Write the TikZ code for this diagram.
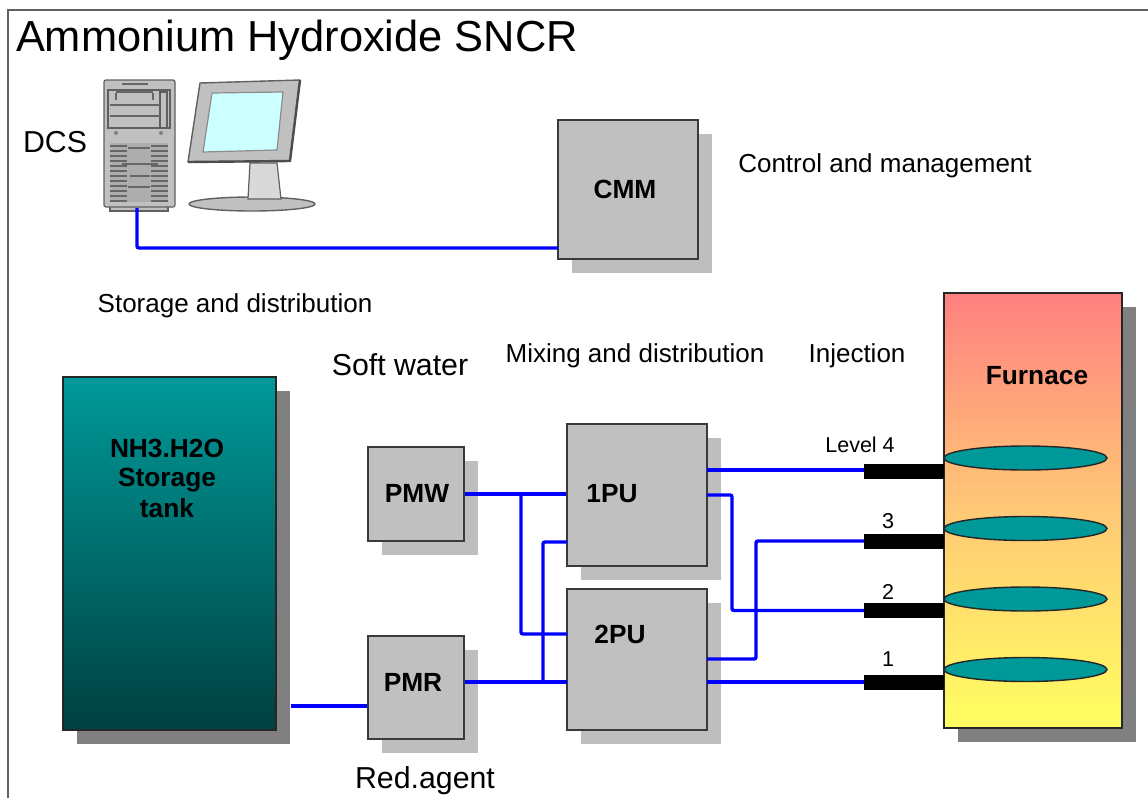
\documentclass[tikz,border=0pt]{standalone}
\usepackage{fontspec}
\setmainfont{Liberation Sans}
\usetikzlibrary{shapes.geometric,shadows,calc}
\definecolor{boxgray}{HTML}{C0C0C0}
\definecolor{shgray}{HTML}{BEBEBE}
\definecolor{darksh}{HTML}{808080}
\definecolor{edgec}{HTML}{3A3A3A}
\definecolor{pipec}{HTML}{0000FF}
\definecolor{tealc}{HTML}{009999}
\definecolor{framec}{HTML}{606060}
\tikzset{
  x=1pt,y=-1pt,
  txt/.style={inner sep=0pt,anchor=base,text=black},
  t21/.style={txt,font=\fontsize{21.5}{24}\selectfont},
  t26/.style={txt,font=\fontsize{26}{30}\selectfont},
  t30/.style={txt,font=\fontsize{30.3}{34}\selectfont},
  tb/.style={txt,font=\fontsize{26.3}{30}\selectfont\bfseries},
  pmbox/.style={draw=edgec,line width=2.4pt,fill=boxgray,inner sep=0pt,
    general shadow={shadow xshift=14pt,shadow yshift=-14pt,fill=shgray}},
  bigbox/.style={draw=black!85,line width=1.8pt,inner sep=0pt,
    general shadow={shadow xshift=14pt,shadow yshift=-14pt,fill=darksh}},
  pipe/.style={draw=pipec,line width=3.4pt,rounded corners=2pt},
  bar/.style={fill=black,inner sep=0pt,minimum width=80pt,minimum height=15pt},
  disc/.style={ellipse,draw=black!85,line width=1.4pt,fill=tealc,inner sep=0pt,minimum width=163pt,minimum height=24pt},
  pcpart/.style={draw=framec,line width=1.2pt,fill=boxgray},
  vent/.style={draw=black!60,line width=1.2pt}
}
\begin{document}
\begin{tikzpicture}
\useasboundingbox (0,0) rectangle (1148,798);
% frame
\draw[framec,line width=1.5pt] (8,798) -- (8,10) -- (1148,10);
% title
\node[txt,font=\fontsize{43.4}{48}\selectfont] (title) at (297,51) {Ammonium Hydroxide SNCR};
\node[t30] (dcs) at (55,152) {DCS};
% tower
\draw[pcpart] (110,205) rectangle (168,211);
\draw[pcpart,rounded corners=2pt] (104,80) rectangle (175,207);
\draw[pcpart] (108,90) rectangle (170,128);
\draw[pcpart] (160,92) rectangle (167,128);
\draw[vent] (110,105) -- (160,105) (110,116) -- (160,116);
\draw[vent,line width=1.8pt] (116,93) -- (116,100) (153,93) -- (153,100) (116,92) -- (153,92);
\draw[vent] (122,84) -- (148,84);
\fill[black!50] (116,133) circle (2pt) (161,133) circle (2pt);
\fill[black!32] (110,143) rectangle (168,202);
\foreach \yy in {146,151,...,201}{
  \draw[vent] (110,\yy) -- (127,\yy) (151,\yy) -- (168,\yy);
}
\draw[vent] (128,148) -- (150,148) (122,164) -- (158,164) (130,176) -- (150,176) (128,187) -- (150,187);
% monitor
\node[ellipse,draw=framec,line width=1.4pt,fill=boxgray,inner sep=0pt,minimum width=126pt,minimum height=14pt] (base) at (252,204) {};
\draw[pcpart,fill=black!15] (250,163) -- (277,163) -- (281,199) -- (248,199) -- cycle;
\draw[draw=framec,line width=1.4pt,fill=boxgray,line join=round] (200,83) -- (300,80) -- (290,161) -- (188,162) -- cycle;
\draw[draw=black!70,line width=2.4pt] (300,80) -- (290,161) -- (188,162);
\draw[draw=black!45,line width=1.2pt,fill={rgb,255:red,204;green,255;blue,255}] (212,93) -- (283,92) -- (277,150) -- (203,152) -- cycle;
% boxes
\node[pmbox,minimum width=140pt,minimum height=139pt] (cmm) at (628,189.5) {};
\node[bigbox,top color=tealc,middle color={rgb,255:red,0;green,128;blue,128},bottom color={rgb,255:red,0;green,64;blue,64},minimum width=213pt,minimum height=353pt] (tank) at (169.5,553.5) {};
\node[pmbox,minimum width=96pt,minimum height=94pt] (pmw) at (416,494) {};
\node[pmbox,minimum width=96pt,minimum height=103pt] (pmr) at (416,687.5) {};
\node[pmbox,minimum width=140pt,minimum height=142pt] (pua) at (637,495) {};
\node[pmbox,minimum width=140pt,minimum height=141pt] (pub) at (637,659.5) {};
\node[bigbox,top color={rgb,255:red,255;green,128;blue,128},bottom color={rgb,255:red,255;green,255;blue,96},middle color={rgb,255:red,255;green,200;blue,118},minimum width=178pt,minimum height=435pt] (furn) at (1033,510.5) {};
% injection bars
\node[bar] (bar4) at (904,471) {};
\node[bar] (bar3) at (904,541) {};
\node[bar] (bar2) at (904,610.5) {};
\node[bar] (bar1) at (904,682.5) {};
% burner discs
\node[disc] (d4) at (1025.5,458) {};
\node[disc] (d3) at (1025.5,528.5) {};
\node[disc] (d2) at (1025.5,599) {};
\node[disc] (d1) at (1025.5,669.5) {};
% connector points
\coordinate (towerout) at (137,208);
\coordinate (cmmin) at (558,248);
\coordinate (tankout) at (291,706);
\coordinate (pmrin) at (367,706);
\coordinate (ja) at (521,494.5);
\coordinate (jb) at (543,682);
\coordinate (puain) at (567,542);
\coordinate (pubin) at (567,634);
\coordinate (pubr) at (567,682);
\coordinate (puaout) at (707,495);
\coordinate (puaupper) at (707,470);
\coordinate (pubout) at (707,659);
\coordinate (pubout2) at (707,682);
\coordinate (vb) at (732,495);
\coordinate (vc) at (756,659);
% connectors
\draw[pipe] (towerout) |- (cmmin);
\draw[pipe] (tankout) -- (pmrin);
\draw[pipe] (pmw.east) -- (pua.west |- pmw.east);
\draw[pipe] (pmr.east |- pubr) -- (pubr);
\draw[pipe] (ja) |- (pubin);
\draw[pipe] (jb) |- (puain);
\draw[pipe] (puaupper) -- (bar4.west |- puaupper);
\draw[pipe] (puaout) -- (vb) |- (bar2.west);
\draw[pipe] (pubout) -- (vc) |- (bar3.west);
\draw[pipe] (pubout2) -- (bar1.west |- pubout2);
% labels
\node[tb] (cmmt) at (625,198) {CMM};
\node[t26] (ctl) at (885,172) {Control and management};
\node[t26] (sto) at (235,312) {Storage and distribution};
\node[t30] (soft) at (400,375) {Soft water};
\node[t26] (mix) at (635,362) {Mixing and distribution};
\node[t26] (inj) at (857,362) {Injection};
\node[tb] (furnt) at (1037,384) {Furnace};
\node[tb] (nh) at (167,457) {NH3.H2O};
\node[tb] (st) at (167,486) {Storage};
\node[tb] (tk) at (167,517) {tank};
\node[tb] (pmwt) at (417,502) {PMW};
\node[tb] (pmrt) at (413,691) {PMR};
\node[tb] (puat) at (612,502) {1PU};
\node[tb] (pubt) at (620,643) {2PU};
\node[t30] (red) at (425,788) {Red.agent};
\node[t21] (l4) at (860,452) {Level 4};
\node[t21] (l3) at (888,528) {3};
\node[t21] (l2) at (888,599) {2};
\node[t21] (l1) at (888,666) {1};
\end{tikzpicture}
\end{document}
